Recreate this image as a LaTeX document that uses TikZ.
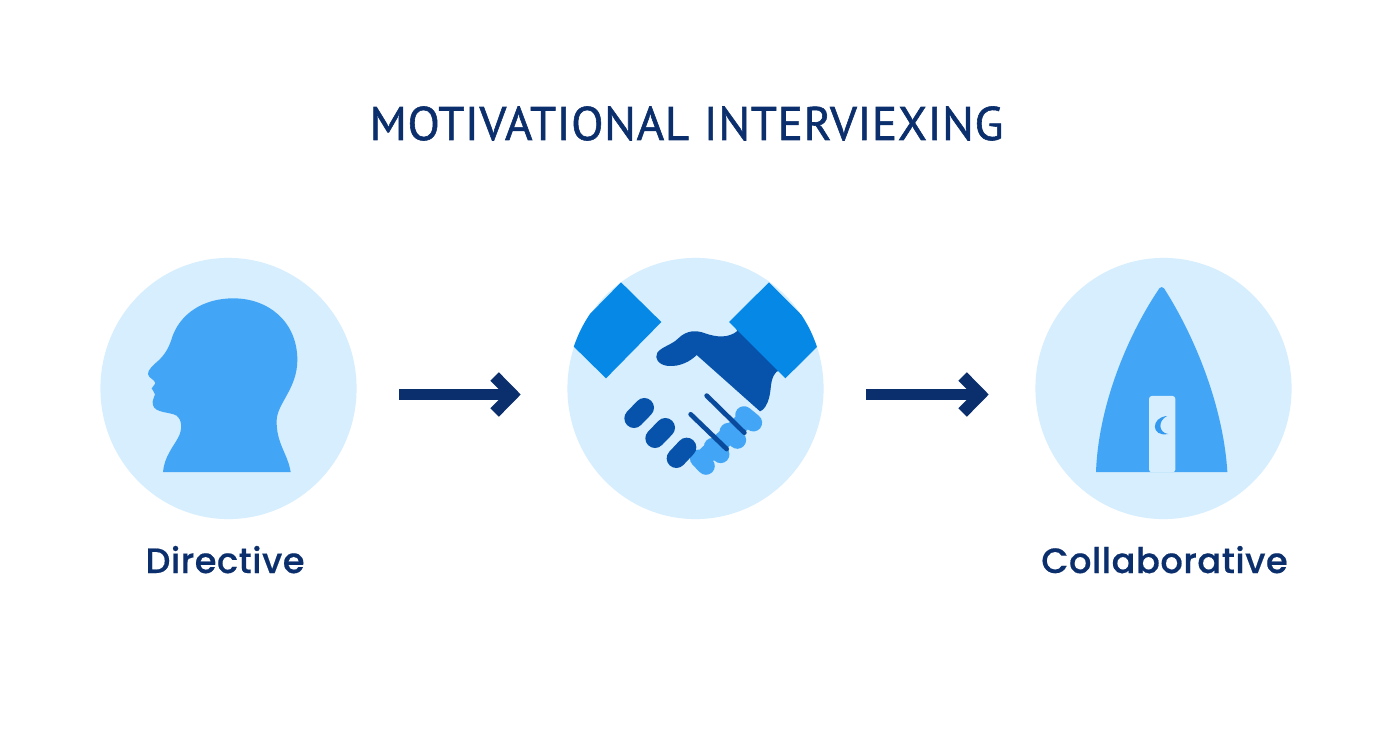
\documentclass[tikz,border=0pt]{standalone}
\usepackage{fontspec}
\usepackage{tikz}
\usetikzlibrary{arrows.meta, shapes.geometric}
\setmainfont{Lato}
\newfontfamily\titlefont[LetterSpace=1.5, FakeBold=1.2, WordSpace=1.1]{PT Sans}
\newfontfamily\labelfont[LetterSpace=1.5, FakeBold=0.5]{Poppins Medium}
\definecolor{navy}{HTML}{0B2F6C}
\definecolor{pale}{HTML}{D6EEFD}
\definecolor{sky}{HTML}{42A5F5}
\definecolor{moon}{HTML}{3398F0}
\definecolor{cuff}{HTML}{0588E6}
\definecolor{deep}{HTML}{0753AB}
\definecolor{seam}{HTML}{0A4A9C}
\tikzset{
	disc/.style={ellipse, fill=pale, inner sep=0pt, minimum width=2.56cm, minimum height=2.61cm},
	flow/.style={draw=navy, line width=3.4pt, shorten <=.42cm, shorten >=.46cm, -{Straight Barb[length=.177cm, width=.36cm]}},
	caption/.style={text=navy, font=\labelfont\fontsize{10}{12}\selectfont, anchor=base},
	finger/.style={line width=5.5pt, line cap=round, draw=deep},
	grip/.style={line width=5pt, line cap=round, draw=sky},
	seamline/.style={line width=1.35pt, line cap=round, draw=seam},
}
\begin{document}
\begin{tikzpicture}[x=.01cm, y=-.01cm]
	\useasboundingbox (0, 0) rectangle (1392, 752);
	\fill[white] (0, 0) rectangle (1392, 752);

	\node[text=navy, font=\titlefont\fontsize{13.4}{16}\selectfont, anchor=base] (heading) at (686.5, 140) {MOTIVATIONAL INTERVIEXING};

	\node[disc] (directive) at (228.5, 388.5) {};
	\node[disc] (handshake) at (695.5, 388.5) {};
	\node[disc] (collab) at (1163.5, 388.5) {};

	\node[caption] (directivetext) at (225, 573) {Directive};
	\node[caption] (collabtext) at (1164.5, 573) {Collaborative};

	\draw[flow] ([yshift=-.06cm]directive.east) -- ([yshift=-.06cm]handshake.west);
	\draw[flow] ([yshift=-.06cm]handshake.east) -- ([yshift=-.06cm]collab.west);

	% head
	\begin{scope}[shift={(95, 250)}, scale=1/3]
		\fill[sky] (204, 666) -- (587, 666)
			.. controls (578, 610) and (543, 580) .. (545, 510)
			.. controls (547, 460) and (607, 415) .. (607, 330)
			.. controls (607, 215) and (520, 145) .. (415, 145)
			.. controls (320, 145) and (255, 195) .. (232, 260)
			.. controls (222, 295) and (208, 315) .. (190, 332)
			.. controls (175, 345) and (158, 360) .. (159, 372)
			.. controls (160, 385) and (180, 388) .. (181, 400)
			.. controls (181, 408) and (170, 408) .. (170, 415)
			.. controls (170, 422) and (181, 425) .. (180, 433)
			.. controls (178, 445) and (170, 450) .. (174, 465)
			.. controls (180, 490) and (225, 485) .. (245, 497)
			.. controls (262, 510) and (262, 540) .. (250, 562)
			.. controls (235, 590) and (208, 620) .. (204, 666) -- cycle;
	\end{scope}

	% handshake
	\begin{scope}[shift={(560, 250)}, scale=1/3]
		\draw[grip] (416, 625) -- (438, 648);
		\draw[grip] (458, 590) -- (482, 613);
		\draw[grip] (505, 545) -- (532, 570);
		\draw[grip] (552, 495) -- (580, 518);
		\draw[grip] (440, 615) -- (555, 510);
		\fill[deep] (525, 230) -- (665, 360) -- (650, 365)
			.. controls (630, 385) and (635, 410) .. (628, 440)
			.. controls (622, 465) and (612, 480) .. (600, 484)
			-- (410, 315)
			.. controls (390, 335) and (360, 350) .. (325, 348)
			.. controls (295, 345) and (282, 325) .. (292, 308)
			.. controls (305, 290) and (335, 285) .. (355, 265)
			.. controls (380, 240) and (410, 240) .. (435, 250)
			.. controls (470, 262) and (505, 265) .. (532, 243) -- cycle;
		\begin{scope}
			\clip (406, 417) ellipse [x radius=385, y radius=394];
			\fill[cuff] (183, 97) -- (304, 216) -- (138, 385) -- (17, 266) -- cycle;
			\fill[cuff] (627, 97) -- (507, 216) -- (676, 385) -- (796, 266) -- cycle;
		\end{scope}
		\draw[finger] (222, 505) -- (253, 473);
		\draw[finger] (285, 565) -- (316, 533);
		\draw[finger] (349, 625) -- (380, 592);
		\draw[seamline] (440, 437) -- (553, 548);
		\draw[seamline] (392, 493) -- (500, 597);
	\end{scope}

	% shelter
	\begin{scope}[shift={(1030, 250)}, scale=1/3]
		\fill[sky] (198, 666)
			.. controls (205, 470) and (290, 260) .. (388, 115)
			.. controls (392, 110) and (398, 110) .. (402, 115)
			.. controls (495, 260) and (580, 470) .. (592, 666) -- cycle;
		\fill[pale, rounded corners=.8pt] (357, 667) -- (357, 438) -- (436, 438) -- (436, 667) -- cycle;
		\fill[moon] (411, 498)
			.. controls (362, 502) and (362, 562) .. (414, 552)
			.. controls (385, 548) and (383, 512) .. (411, 498) -- cycle;
	\end{scope}
\end{tikzpicture}
\end{document}
